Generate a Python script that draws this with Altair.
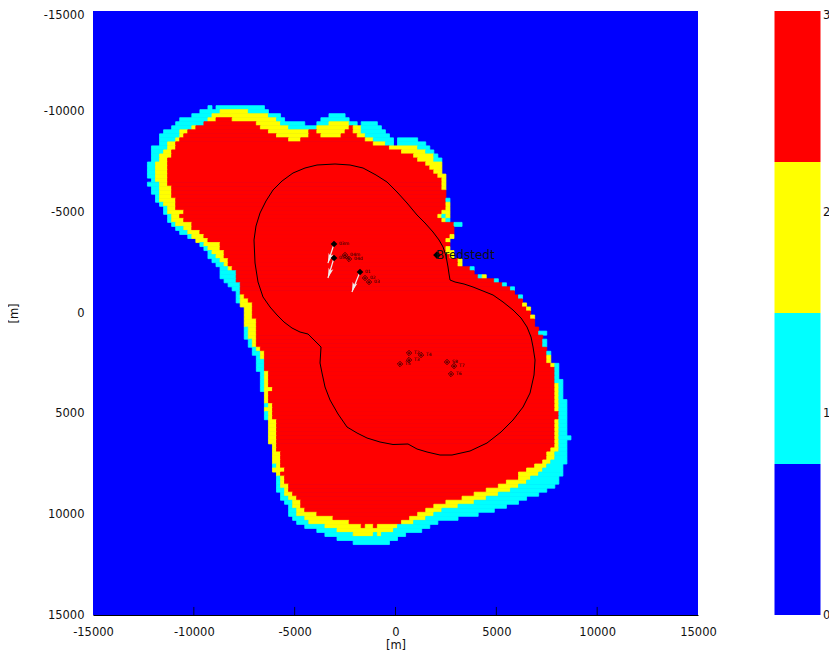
import altair as alt
import pandas as pd

FONT = "DejaVu Sans"
ticks = [-15000, -10000, -5000, 0, 5000, 10000, 15000]
levels = [0, 1, 2, 3]
colours = ["#0000ff", "#00ffff", "#ffff00", "#ff0000"]
cell = 200
first_col = -75
first_row = 24

# each row: (start column, level) ... last entry closes the row with level 0; column 0 is x=-15000, row 0 is y=-15000
row_runs = [
 [(29,1),(30,0),(31,1),(43,0)],
 [(27,1),(32,2),(39,1),(44,0)],
 [(25,1),(30,2),(44,1),(47,0),(59,1),(63,0)],
 [(22,1),(29,2),(31,3),(35,2),(46,1),(48,0),(57,1),(64,0)],
 [(21,1),(28,3),(41,2),(47,1),(53,0),(56,1),(59,2),(64,1),(66,0),(67,1),(71,0)],
 [(20,1),(25,2),(26,3),(42,2),(49,1),(56,2),(64,3),(65,2),(67,1),(72,0)],
 [(18,1),(22,2),(24,3),(44,2),(54,3),(56,2),(63,3),(65,2),(67,1),(73,0)],
 [(17,1),(22,2),(23,3),(46,2),(54,3),(57,2),(62,3),(66,2),(68,1),(74,0)],
 [(17,1),(21,2),(22,3),(49,2),(52,3),(68,2),(70,1),(75,0),(76,1),(81,0)],
 [(17,1),(19,2),(21,3),(70,2),(73,1),(75,0),(76,1),(83,0)],
 [(15,1),(19,2),(21,3),(74,2),(81,1),(84,0)],
 [(15,1),(18,2),(20,3),(77,2),(83,1),(85,0)],
 [(15,1),(17,2),(20,3),(80,2),(85,1),(86,0)],
 [(15,1),(17,2),(19,3),(81,2),(85,1),(87,0)],
 [(14,1),(16,2),(19,3),(83,2),(87,0)],
 [(14,1),(16,2),(19,3),(84,2),(87,0)],
 [(14,1),(16,2),(19,3),(85,2),(87,0)],
 [(14,1),(16,2),(19,3),(86,2),(88,0)],
 [(15,1),(16,2),(19,3),(87,2),(88,0)],
 [(14,1),(17,2),(19,3),(87,2),(88,0)],
 [(15,1),(17,2),(20,3),(87,2),(88,0)],
 [(15,1),(17,2),(20,3),(88,0)],
 [(16,1),(17,2),(20,3),(88,0)],
 [(16,1),(17,2),(21,3),(88,1),(89,0)],
 [(17,1),(18,2),(21,3),(88,2),(89,0)],
 [(18,1),(19,2),(21,3),(88,2),(89,0)],
 [(18,1),(19,2),(23,3),(87,2),(89,0)],
 [(19,1),(20,2),(22,3),(86,2),(87,1),(88,2),(89,0)],
 [(19,1),(20,2),(23,3),(87,2),(88,1),(89,0)],
 [(20,1),(21,2),(25,3),(90,1),(92,0)],
 [(21,1),(23,2),(25,3),(90,0)],
 [(22,1),(24,2),(27,3),(90,0)],
 [(24,1),(25,2),(28,3),(89,2),(90,0)],
 [(26,2),(29,3),(88,2),(89,0)],
 [(27,1),(28,2),(32,3),(89,0)],
 [(28,1),(29,2),(32,3),(88,2),(89,0)],
 [(29,1),(30,2),(33,3),(88,2),(90,0)],
 [(29,1),(31,2),(33,3),(89,2),(90,0)],
 [(30,1),(32,2),(34,3),(91,2),(92,0)],
 [(31,1),(33,2),(34,3),(91,2),(92,0)],
 [(32,1),(34,2),(35,3),(94,1),(95,0)],
 [(32,1),(36,3),(95,0)],
 [(32,1),(36,3),(96,1),(97,2),(98,0)],
 [(33,1),(36,3),(100,1),(101,0)],
 [(34,1),(37,3),(102,1),(103,0)],
 [(35,1),(37,3),(104,1),(105,0)],
 [(36,1),(37,3),(105,0)],
 [(36,1),(37,2),(38,3),(106,1),(107,0)],
 [(36,1),(37,2),(39,3),(107,0)],
 [(37,2),(40,3),(107,2),(108,0)],
 [(38,2),(40,3),(108,2),(109,0)],
 [(38,2),(40,3),(109,0)],
 [(38,2),(40,3),(109,2),(110,0)],
 [(38,2),(41,3),(110,0)],
 [(38,2),(41,3),(110,0)],
 [(38,1),(39,2),(41,3),(111,0)],
 [(38,1),(39,2),(41,3),(111,1),(113,0)],
 [(38,1),(39,2),(41,3),(112,0)],
 [(39,1),(40,2),(41,3),(112,1),(113,0)],
 [(39,1),(40,2),(41,3),(112,1),(113,0)],
 [(40,1),(41,2),(42,3),(113,0)],
 [(40,1),(42,2),(43,3),(113,1),(114,0)],
 [(41,1),(42,2),(43,3),(113,2),(114,0)],
 [(41,1),(43,3),(113,2),(114,0)],
 [(41,1),(43,3),(114,2),(115,1),(116,0)],
 [(41,1),(43,3),(115,1),(116,0)],
 [(42,1),(43,2),(44,3),(115,1),(116,0)],
 [(42,1),(43,2),(44,3),(115,1),(116,0)],
 [(42,1),(43,2),(44,3),(115,1),(117,0)],
 [(42,1),(43,2),(44,3),(115,2),(116,1),(117,0)],
 [(42,1),(43,2),(45,3),(115,2),(116,1),(117,0)],
 [(43,2),(44,3),(115,2),(116,1),(117,0)],
 [(43,2),(44,3),(115,2),(116,1),(117,0)],
 [(43,2),(44,3),(115,2),(116,1),(118,0)],
 [(43,1),(44,2),(45,3),(115,2),(116,1),(118,0)],
 [(43,2),(45,3),(115,2),(116,1),(118,0)],
 [(43,1),(44,2),(45,3),(116,1),(118,0)],
 [(43,1),(44,2),(45,3),(116,1),(118,0)],
 [(44,2),(46,3),(115,2),(116,1),(118,0)],
 [(44,2),(46,3),(115,2),(116,1),(118,0)],
 [(44,2),(46,3),(115,2),(116,1),(118,0)],
 [(44,2),(46,3),(115,2),(116,1),(118,0)],
 [(44,2),(46,3),(115,2),(116,1),(119,0)],
 [(44,2),(46,3),(115,2),(116,1),(118,0)],
 [(45,2),(46,3),(115,2),(116,1),(118,0)],
 [(45,2),(46,3),(114,2),(116,1),(118,0)],
 [(45,2),(47,3),(113,2),(115,1),(118,0)],
 [(45,2),(47,3),(113,2),(115,1),(118,0)],
 [(45,2),(47,3),(112,2),(114,1),(118,0)],
 [(45,1),(46,2),(47,3),(110,2),(113,1),(117,0)],
 [(45,2),(48,3),(108,2),(112,1),(117,0)],
 [(46,2),(47,3),(106,2),(111,1),(117,0)],
 [(46,1),(47,2),(48,3),(106,2),(109,1),(116,0)],
 [(46,1),(47,2),(48,3),(103,2),(108,1),(116,0)],
 [(46,1),(47,2),(49,3),(101,2),(106,1),(115,0)],
 [(46,1),(48,2),(49,3),(98,2),(104,1),(113,0)],
 [(47,1),(48,2),(50,3),(95,2),(101,1),(111,0)],
 [(47,1),(49,2),(51,3),(92,2),(98,1),(108,0)],
 [(48,1),(50,2),(52,3),(88,2),(95,1),(106,0)],
 [(49,1),(50,2),(52,3),(85,2),(91,1),(103,0)],
 [(49,1),(51,2),(53,3),(83,2),(87,1),(100,0)],
 [(49,1),(51,2),(56,3),(81,2),(85,1),(96,0)],
 [(50,1),(53,2),(60,3),(79,2),(83,1),(91,0)],
 [(51,1),(54,2),(64,3),(77,2),(80,1),(86,0)],
 [(53,1),(58,2),(67,3),(68,2),(70,3),(71,2),(76,1),(84,0)],
 [(56,1),(61,2),(75,1),(82,0)],
 [(58,1),(65,2),(70,1),(71,2),(72,1),(78,0)],
 [(61,1),(76,0)],
 [(65,1),(74,0)],
]

contour_x = [-3000,-2255,-1610,-966,-420,75,571,1067,1464,1860,2158,2357,2505,2604,2654,2704,2952,3398,3844,4340,4836,5332,5828,6225,6522,6720,6820,6919,6869,6671,6324,5828,5233,4538,3695,2803,2208,1563,1067,621,-123,-768,-1412,-1908,-2404,-2850,-3247,-3495,-3644,-3743,-3693,-4338,-4735,-5132,-5529,-5875,-6222,-6570,-6818,-6966,-7016,-6917,-6718,-6421,-6074,-5627,-5082,-4487,-3892,-3000]
contour_y = [-7400,-7351,-7202,-6854,-6506,-6010,-5463,-4867,-4470,-4023,-3626,-3278,-2831,-2285,-1937,-1639,-1539,-1440,-1291,-1092,-894,-546,-149,249,696,1193,1689,2335,3080,3974,4669,5315,5911,6457,6855,7054,7054,6904,6755,6507,6532,6408,6209,5960,5663,5017,4321,3676,2980,2484,1689,1044,945,746,448,100,-298,-795,-1539,-2483,-3626,-4321,-4967,-5563,-6109,-6556,-6953,-7202,-7351,-7400]

filled_x = [-3049, -3049, -1760]
filled_y = [-3427, -2732, -2036]
arrow_x2 = [-3350, -3350, -2160]
arrow_y2 = [-2480, -1740, -1040]
filled_names = ["03m", "05m", "01"]

open_x = [-2503, -2305, -1512, -1313, 671, 1266, 671, 224, 2555, 2902, 2753]
open_y = [-2880, -2682, -1738, -1539, 1987, 2086, 2335, 2534, 2434, 2633, 3030]
open_names = ["04m", "04d", "02", "03", "T2", "T4", "T3", "T5", "S8", "T7", "T6"]

town_x = [2059]
town_y = [-2880]
town_names = ["Bredstedt"]

bar_low = [0, 0.75, 1.5, 2.25]
bar_high = [0.75, 1.5, 2.25, 3]

rows = []
for r, runs in enumerate(row_runs):
    for (a, v), (b, _) in zip(runs, runs[1:]):
        if v:
            rows.append(dict(
                x=(a + first_col - 0.5) * cell, x2=(b + first_col - 0.5) * cell,
                y=(r + first_row + first_col - 0.5) * cell, y2=(r + first_row + first_col + 0.5) * cell,
                v=v))
cells = pd.DataFrame(rows)

xs = alt.Scale(domain=[-15000, 15000], nice=False, zero=False)
ys = alt.Scale(domain=[-15000, 15000], nice=False, zero=False, reverse=True)
cs = alt.Scale(domain=levels, range=colours)
lab = "''+datum.value"

xax = alt.Axis(values=ticks, title="[m]", grid=False, ticks=False, labelExpr=lab, labelFont=FONT, titleFont=FONT,
               labelFontSize=11.5, titleFontSize=11.5, titleFontWeight="normal", labelPadding=11, titlePadding=2,
               labelColor="#111", titleColor="#111", domainColor="#000", labelFlush=False, labelOverlap=False)
yax = alt.Axis(values=ticks, title="[m]", grid=False, ticks=False, labelExpr=lab, labelFont=FONT, titleFont=FONT,
               labelFontSize=11.5, titleFontSize=11.5, titleFontWeight="normal", labelPadding=9, titlePadding=24,
               labelColor="#111", titleColor="#111", domainColor="#666", labelFlush=False, labelOverlap=False,
               labelOffset={"condition": {"test": "datum.value == -15000", "value": 4}, "value": 0})

bg = alt.Chart(pd.DataFrame({"x": [-15000], "x2": [15000], "y": [-15000], "y2": [15000]})).mark_rect(color=colours[0]).encode(
    x=alt.X("x:Q", scale=xs, axis=xax), x2="x2:Q", y=alt.Y("y:Q", scale=ys, axis=yax), y2="y2:Q")

rects = alt.Chart(cells).mark_rect(strokeWidth=0.8).encode(
    x=alt.X("x:Q", scale=xs), x2="x2:Q", y=alt.Y("y:Q", scale=ys), y2="y2:Q",
    color=alt.Color("v:O", scale=cs, legend=None), stroke=alt.Stroke("v:O", scale=cs, legend=None))

contour = alt.Chart(pd.DataFrame({"x": contour_x, "y": contour_y, "i": range(len(contour_x))})).mark_line(
    color="#000", strokeWidth=1).encode(x=alt.X("x:Q", scale=xs), y=alt.Y("y:Q", scale=ys), order="i:Q")

fdf = pd.DataFrame({"x": filled_x, "y": filled_y, "x2": arrow_x2, "y2": arrow_y2, "n": filled_names})
odf = pd.DataFrame({"x": open_x, "y": open_y, "n": open_names})
tdf = pd.DataFrame({"x": town_x, "y": town_y, "n": town_names})
X = alt.X("x:Q", scale=xs)
Y = alt.Y("y:Q", scale=ys)

arrows = alt.Chart(fdf).mark_rule(color="#eeeeee", strokeWidth=1.2).encode(x=X, y=Y, x2="x2:Q", y2="y2:Q")
heads = alt.Chart(fdf).mark_point(shape="M0,0 L0.45,1.8 L0,1.4 L-0.45,1.8 Z", filled=True, color="#eeeeee", size=120, opacity=1, angle=198).encode(
    x=alt.X("x2:Q", scale=xs), y=alt.Y("y2:Q", scale=ys))
fmarks = alt.Chart(fdf).mark_point(shape="diamond", filled=True, color="#000", size=45, opacity=1).encode(x=X, y=Y)
flabels = alt.Chart(fdf).mark_text(align="left", baseline="middle", dx=5, font=FONT, fontSize=4.5, color="#000").encode(x=X, y=Y, text="n:N")

omarks = alt.Chart(odf).mark_point(shape="diamond", filled=False, color="#000", size=28, strokeWidth=0.7, opacity=1).encode(x=X, y=Y)
ocentre = alt.Chart(odf).mark_point(shape="circle", filled=True, color="#000", size=3, opacity=1).encode(x=X, y=Y)
olabels = alt.Chart(odf).mark_text(align="left", baseline="middle", dx=5, font=FONT, fontSize=4.5, color="#000").encode(x=X, y=Y, text="n:N")

tmark = alt.Chart(tdf).mark_point(shape="diamond", filled=True, color="#000", size=60, opacity=1).encode(x=X, y=Y)
tlabel = alt.Chart(tdf).mark_text(align="left", baseline="middle", dx=-1, font=FONT, fontSize=12, color="#111").encode(x=X, y=Y, text="n:N")

tick_df = pd.DataFrame({"t": ticks[1:-1]})
xticks = alt.Chart(tick_df).mark_rule(color="#000", strokeWidth=0.8).encode(
    x=alt.X("t:Q", scale=xs), y=alt.datum(15000, scale=ys), y2=alt.datum(14600))

main = alt.layer(bg, rects, contour, arrows, heads, fmarks, flabels, omarks, ocentre, olabels, tmark, tlabel, xticks).properties(width=605, height=604)

bar = alt.Chart(pd.DataFrame({"a": bar_low, "b": bar_high, "v": levels})).mark_rect().encode(
    x=alt.value(0), x2=alt.value(46),
    y=alt.Y("a:Q", scale=alt.Scale(domain=[0, 3], nice=False),
            axis=alt.Axis(orient="right", values=levels, title=None, grid=False, ticks=False, domain=False, format="d",
                          labelFont=FONT, labelFontSize=11.5, labelPadding=2, labelColor="#111", labelFlush=False,
                          labelOffset={"condition": {"test": "datum.value == 3", "value": 4}, "value": 0})),
    y2="b:Q",
    color=alt.Color("v:O", scale=cs, legend=None),
).properties(width=46, height=604)

chart = alt.hconcat(main, bar, spacing=57.5).resolve_scale(color="independent", stroke="independent").properties(
    padding={"left": 0, "top": 1, "right": -1, "bottom": 0}
).configure_view(stroke=None)

chart.save("out.html", embed_options={"renderer": "svg", "actions": False})
